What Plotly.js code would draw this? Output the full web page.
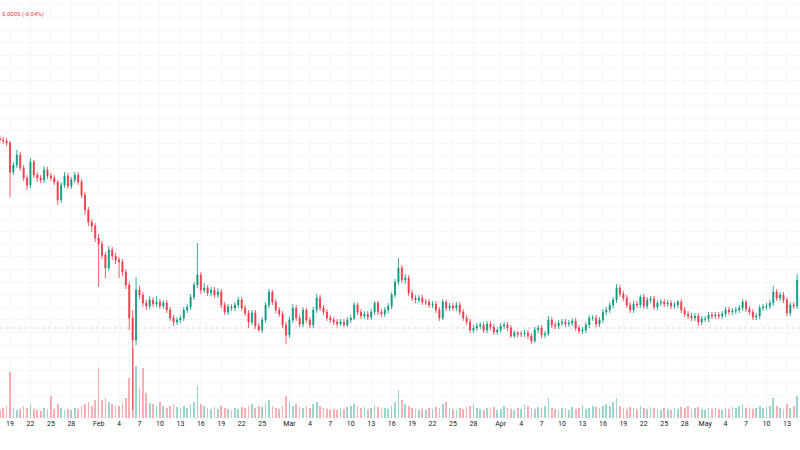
<!DOCTYPE html>
<html>
<head>
<meta charset="utf-8">
<script src="https://cdn.plot.ly/plotly-3.0.1.min.js"></script>
<style>html,body{margin:0;padding:0;background:#fff;}#chart{width:800px;height:450px;}</style>
</head>
<body>
<div id="chart"></div>
<script>
// 12-hour candles starting 2023-01-17 12:00
const startTime = Date.UTC(2023, 0, 17, 12, 0);
const stepHours = 12;

const openPx = [
1.362,1.360,1.359,1.357,1.328,1.335,1.345,1.332,1.322,1.315,
1.338,1.325,1.322,1.320,1.330,1.324,1.322,1.318,1.300,1.315,
1.324,1.314,1.320,1.325,1.318,1.305,1.290,1.278,1.274,1.262,
1.256,1.245,1.232,1.250,1.244,1.240,1.238,1.228,1.215,1.182,
1.160,1.210,1.205,1.197,1.194,1.200,1.196,1.198,1.194,1.197,
1.190,1.182,1.178,1.180,1.182,1.190,1.193,1.203,1.215,1.225,
1.210,1.212,1.207,1.210,1.205,1.208,1.195,1.188,1.193,1.192,
1.195,1.200,1.192,1.187,1.178,1.187,1.174,1.170,1.180,1.195,
1.208,1.198,1.190,1.186,1.175,1.165,1.180,1.192,1.182,1.176,
1.190,1.180,1.175,1.190,1.202,1.192,1.188,1.182,1.180,1.178,
1.176,1.178,1.175,1.180,1.182,1.195,1.188,1.184,1.186,1.183,
1.188,1.197,1.188,1.186,1.190,1.194,1.205,1.218,1.232,1.220,
1.222,1.207,1.202,1.200,1.202,1.198,1.198,1.195,1.196,1.190,
1.182,1.198,1.192,1.194,1.192,1.195,1.188,1.182,1.178,1.170,
1.172,1.174,1.175,1.170,1.176,1.173,1.168,1.170,1.174,1.175,
1.172,1.164,1.167,1.166,1.166,1.167,1.164,1.159,1.170,1.172,
1.165,1.166,1.180,1.175,1.174,1.177,1.178,1.176,1.177,1.179,
1.172,1.169,1.170,1.175,1.182,1.182,1.176,1.180,1.188,1.190,
1.195,1.200,1.212,1.206,1.202,1.195,1.190,1.196,1.195,1.203,
1.194,1.200,1.201,1.193,1.197,1.198,1.196,1.197,1.194,1.195,
1.198,1.190,1.186,1.184,1.182,1.184,1.178,1.181,1.181,1.185,
1.184,1.185,1.184,1.186,1.190,1.188,1.189,1.190,1.192,1.198,
1.191,1.188,1.183,1.184,1.192,1.193,1.194,1.197,1.208,1.202,
1.205,1.200,1.187,1.195,1.194
];
const highPx = [
1.365,1.363,1.362,1.359,1.338,1.350,1.348,1.335,1.325,1.342,
1.340,1.328,1.325,1.334,1.333,1.327,1.325,1.320,1.318,1.328,
1.327,1.323,1.328,1.328,1.321,1.308,1.293,1.281,1.277,1.266,
1.259,1.248,1.254,1.253,1.247,1.243,1.241,1.231,1.218,1.190,
1.223,1.214,1.208,1.200,1.204,1.203,1.204,1.201,1.200,1.200,
1.193,1.185,1.183,1.185,1.193,1.196,1.206,1.218,1.257,1.228,
1.217,1.215,1.213,1.213,1.212,1.211,1.198,1.196,1.196,1.198,
1.203,1.203,1.195,1.190,1.190,1.190,1.177,1.183,1.198,1.211,
1.210,1.201,1.193,1.189,1.178,1.183,1.196,1.195,1.185,1.193,
1.192,1.183,1.193,1.206,1.205,1.195,1.191,1.185,1.183,1.181,
1.181,1.181,1.183,1.185,1.198,1.197,1.191,1.189,1.189,1.191,
1.199,1.199,1.191,1.193,1.197,1.208,1.221,1.242,1.235,1.226,
1.225,1.210,1.205,1.205,1.205,1.201,1.201,1.199,1.199,1.193,
1.201,1.200,1.197,1.197,1.198,1.198,1.191,1.185,1.181,1.175,
1.177,1.178,1.178,1.179,1.179,1.176,1.173,1.177,1.178,1.178,
1.175,1.170,1.169,1.169,1.170,1.170,1.167,1.173,1.175,1.175,
1.169,1.184,1.183,1.178,1.180,1.181,1.181,1.180,1.182,1.182,
1.175,1.173,1.178,1.185,1.185,1.185,1.183,1.191,1.193,1.198,
1.203,1.216,1.215,1.209,1.205,1.198,1.199,1.199,1.205,1.206,
1.203,1.204,1.204,1.200,1.201,1.201,1.200,1.200,1.198,1.200,
1.201,1.193,1.189,1.187,1.187,1.187,1.184,1.184,1.188,1.188,
1.188,1.188,1.189,1.193,1.193,1.192,1.193,1.195,1.201,1.200,
1.194,1.191,1.187,1.195,1.196,1.197,1.200,1.214,1.211,1.208,
1.208,1.203,1.198,1.198,1.226
];
const lowPx = [
1.357,1.356,1.354,1.303,1.325,1.332,1.329,1.319,1.310,1.312,
1.322,1.318,1.317,1.317,1.321,1.319,1.315,1.295,1.297,1.312,
1.311,1.311,1.317,1.315,1.302,1.285,1.274,1.268,1.258,1.213,
1.241,1.222,1.229,1.240,1.236,1.222,1.224,1.211,1.170,1.090,
1.155,1.201,1.193,1.190,1.191,1.193,1.193,1.191,1.191,1.187,
1.179,1.174,1.175,1.177,1.179,1.187,1.190,1.200,1.212,1.206,
1.207,1.204,1.204,1.202,1.202,1.192,1.185,1.185,1.189,1.189,
1.192,1.189,1.184,1.172,1.175,1.171,1.168,1.167,1.177,1.192,
1.195,1.187,1.183,1.172,1.156,1.162,1.177,1.179,1.173,1.173,
1.177,1.172,1.172,1.187,1.189,1.185,1.179,1.177,1.175,1.173,
1.174,1.173,1.173,1.177,1.180,1.185,1.181,1.181,1.180,1.180,
1.185,1.185,1.183,1.183,1.187,1.191,1.202,1.215,1.217,1.216,
1.204,1.199,1.197,1.197,1.195,1.195,1.192,1.192,1.187,1.179,
1.180,1.189,1.189,1.189,1.189,1.185,1.179,1.175,1.167,1.167,
1.169,1.171,1.167,1.167,1.170,1.165,1.165,1.167,1.171,1.169,
1.162,1.162,1.163,1.163,1.163,1.161,1.156,1.157,1.167,1.162,
1.162,1.164,1.172,1.171,1.171,1.174,1.173,1.173,1.174,1.169,
1.166,1.166,1.167,1.172,1.179,1.173,1.173,1.177,1.185,1.187,
1.192,1.197,1.203,1.199,1.192,1.187,1.187,1.192,1.192,1.191,
1.191,1.197,1.190,1.190,1.194,1.193,1.193,1.191,1.191,1.192,
1.187,1.183,1.181,1.179,1.179,1.174,1.175,1.178,1.178,1.181,
1.181,1.181,1.181,1.183,1.185,1.185,1.186,1.187,1.189,1.188,
1.185,1.180,1.180,1.181,1.189,1.190,1.191,1.194,1.199,1.199,
1.197,1.184,1.184,1.191,1.191
];
const closePx = [
1.360,1.359,1.357,1.328,1.335,1.345,1.332,1.322,1.315,1.338,
1.325,1.322,1.320,1.330,1.324,1.322,1.318,1.300,1.315,1.324,
1.314,1.320,1.325,1.318,1.305,1.290,1.278,1.274,1.262,1.256,
1.245,1.232,1.250,1.244,1.240,1.238,1.228,1.215,1.182,1.160,
1.210,1.205,1.197,1.194,1.200,1.196,1.198,1.194,1.197,1.190,
1.182,1.178,1.180,1.182,1.190,1.193,1.203,1.215,1.225,1.210,
1.212,1.207,1.210,1.205,1.208,1.195,1.188,1.193,1.192,1.195,
1.200,1.192,1.187,1.178,1.187,1.174,1.170,1.180,1.195,1.208,
1.198,1.190,1.186,1.175,1.165,1.180,1.192,1.182,1.176,1.190,
1.180,1.175,1.190,1.202,1.192,1.188,1.182,1.180,1.178,1.176,
1.178,1.175,1.180,1.182,1.195,1.188,1.184,1.186,1.183,1.188,
1.197,1.188,1.186,1.190,1.194,1.205,1.218,1.232,1.220,1.222,
1.207,1.202,1.200,1.202,1.198,1.198,1.195,1.196,1.190,1.182,
1.198,1.192,1.194,1.192,1.195,1.188,1.182,1.178,1.170,1.172,
1.174,1.175,1.170,1.176,1.173,1.168,1.170,1.174,1.175,1.172,
1.164,1.167,1.166,1.166,1.167,1.164,1.159,1.170,1.172,1.165,
1.166,1.180,1.175,1.174,1.177,1.178,1.176,1.177,1.179,1.172,
1.169,1.170,1.175,1.182,1.182,1.176,1.180,1.188,1.190,1.195,
1.200,1.212,1.206,1.202,1.195,1.190,1.196,1.195,1.203,1.194,
1.200,1.201,1.193,1.197,1.198,1.196,1.197,1.194,1.195,1.198,
1.190,1.186,1.184,1.182,1.184,1.178,1.181,1.181,1.185,1.184,
1.185,1.184,1.186,1.190,1.188,1.189,1.190,1.192,1.198,1.191,
1.188,1.183,1.184,1.192,1.193,1.194,1.197,1.208,1.202,1.205,
1.200,1.187,1.195,1.194,1.220
];
const volume = [
80,100,120,460,100,80,90,120,100,140,
90,80,70,100,90,220,90,140,100,80,
90,80,100,90,120,140,160,120,180,500,
180,200,160,140,120,120,150,200,400,700,
520,300,500,250,150,140,120,160,120,100,
120,140,110,100,120,100,140,160,320,140,
120,100,90,110,90,120,100,90,80,100,
90,110,100,120,140,100,120,110,150,180,
120,100,90,120,220,160,120,140,110,100,
120,100,140,160,120,100,90,80,90,80,
100,90,110,120,140,120,100,110,90,100,
130,110,90,100,90,120,160,280,180,140,
120,100,90,80,90,80,100,90,110,100,
140,160,100,90,80,100,90,110,120,140,
100,90,80,100,90,110,80,90,120,100,
90,80,100,90,140,120,100,90,110,100,
120,200,100,90,80,100,90,80,110,90,
100,120,90,100,120,110,100,120,140,120,
160,200,120,100,90,110,100,90,120,100,
90,110,100,90,80,100,90,80,100,90,
110,100,120,90,100,110,90,80,100,90,
100,90,80,100,90,110,100,120,140,100,
110,90,100,120,100,110,120,200,120,100,
90,140,100,120,220
];

const tickVals = ['2023-01-19','2023-01-22','2023-01-25','2023-01-28','2023-02-01','2023-02-04','2023-02-07','2023-02-10','2023-02-13','2023-02-16','2023-02-19','2023-02-22','2023-02-25','2023-03-01','2023-03-04','2023-03-07','2023-03-10','2023-03-13','2023-03-16','2023-03-19','2023-03-22','2023-03-25','2023-03-28','2023-04-01','2023-04-04','2023-04-07','2023-04-10','2023-04-13','2023-04-16','2023-04-19','2023-04-22','2023-04-25','2023-04-28','2023-05-01','2023-05-04','2023-05-07','2023-05-10','2023-05-13'];
const tickText = ['19','22','25','28','Feb','4','7','10','13','16','19','22','25','Mar','4','7','10','13','16','19','22','25','28','Apr','4','7','10','13','16','19','22','25','28','May','4','7','10','13'];

const headerText = '0.0005 (-0.04%)';
const priceLine = 1.172;

function fmt(ms) {
  const d = new Date(ms);
  const p = n => String(n).padStart(2, '0');
  return d.getUTCFullYear() + '-' + p(d.getUTCMonth() + 1) + '-' + p(d.getUTCDate()) + ' ' + p(d.getUTCHours()) + ':' + p(d.getUTCMinutes());
}
const times = closePx.map((_, i) => fmt(startTime + i * stepHours * 3600000));

const UP = '#089981', DOWN = '#f23645';
const volColors = closePx.map((c, i) => c >= openPx[i] ? 'rgba(8,153,129,0.4)' : 'rgba(242,54,69,0.4)');

const candle = {
  type: 'candlestick',
  x: times, open: openPx, high: highPx, low: lowPx, close: closePx,
  increasing: {line: {color: UP, width: 0.8}, fillcolor: UP},
  decreasing: {line: {color: DOWN, width: 0.8}, fillcolor: DOWN},
  whiskerwidth: 0,
  hoverinfo: 'skip',
  xaxis: 'x', yaxis: 'y'
};
const vol = {
  type: 'bar',
  x: times, y: volume,
  marker: {color: volColors, line: {width: 0}},
  width: stepHours * 3600000 * 0.5,
  hoverinfo: 'skip',
  xaxis: 'x', yaxis: 'y2'
};

const layout = {
  width: 800, height: 450,
  margin: {l: 0, r: 0, t: 0, b: 32},
  paper_bgcolor: '#ffffff', plot_bgcolor: '#ffffff',
  showlegend: false,
  boxgap: 0.55,
  font: {family: 'Roboto, "DejaVu Sans", sans-serif', color: '#131722', size: 7},
  xaxis: {
    type: 'date',
    range: ['2023-01-17 12:47', '2023-05-14 22:05'],
    tickvals: tickVals, ticktext: tickText,
    tickfont: {size: 7, color: '#131722'},
    ticks: '', showline: false, zeroline: false,
    showgrid: true, gridcolor: '#f5f6f8', gridwidth: 1,
    rangeslider: {visible: false}, fixedrange: true
  },
  yaxis: {
    range: [1.082, 1.5],
    tick0: 1.4574, dtick: 0.0126,
    showticklabels: false, ticks: '',
    showgrid: true, gridcolor: '#f5f6f8', gridwidth: 1,
    zeroline: false, showline: false, fixedrange: true
  },
  yaxis2: {
    overlaying: 'y', range: [0, 4180], visible: false, fixedrange: true
  },
  bargap: 0,
  shapes: [{
    type: 'line', xref: 'paper', x0: 0, x1: 1, yref: 'y', y0: priceLine, y1: priceLine,
    line: {color: 'rgba(242,54,69,0.3)', width: 1, dash: 'dot'}, layer: 'below'
  }],
  annotations: [{
    text: headerText, xref: 'paper', yref: 'paper', x: 0, y: 1 - 14 / 418,
    xanchor: 'left', yanchor: 'middle', showarrow: false,
    font: {size: 6, color: '#f23645'}
  }]
};

Plotly.newPlot('chart', [vol, candle], layout, {displayModeBar: false, staticPlot: true});
</script>
</body>
</html>
